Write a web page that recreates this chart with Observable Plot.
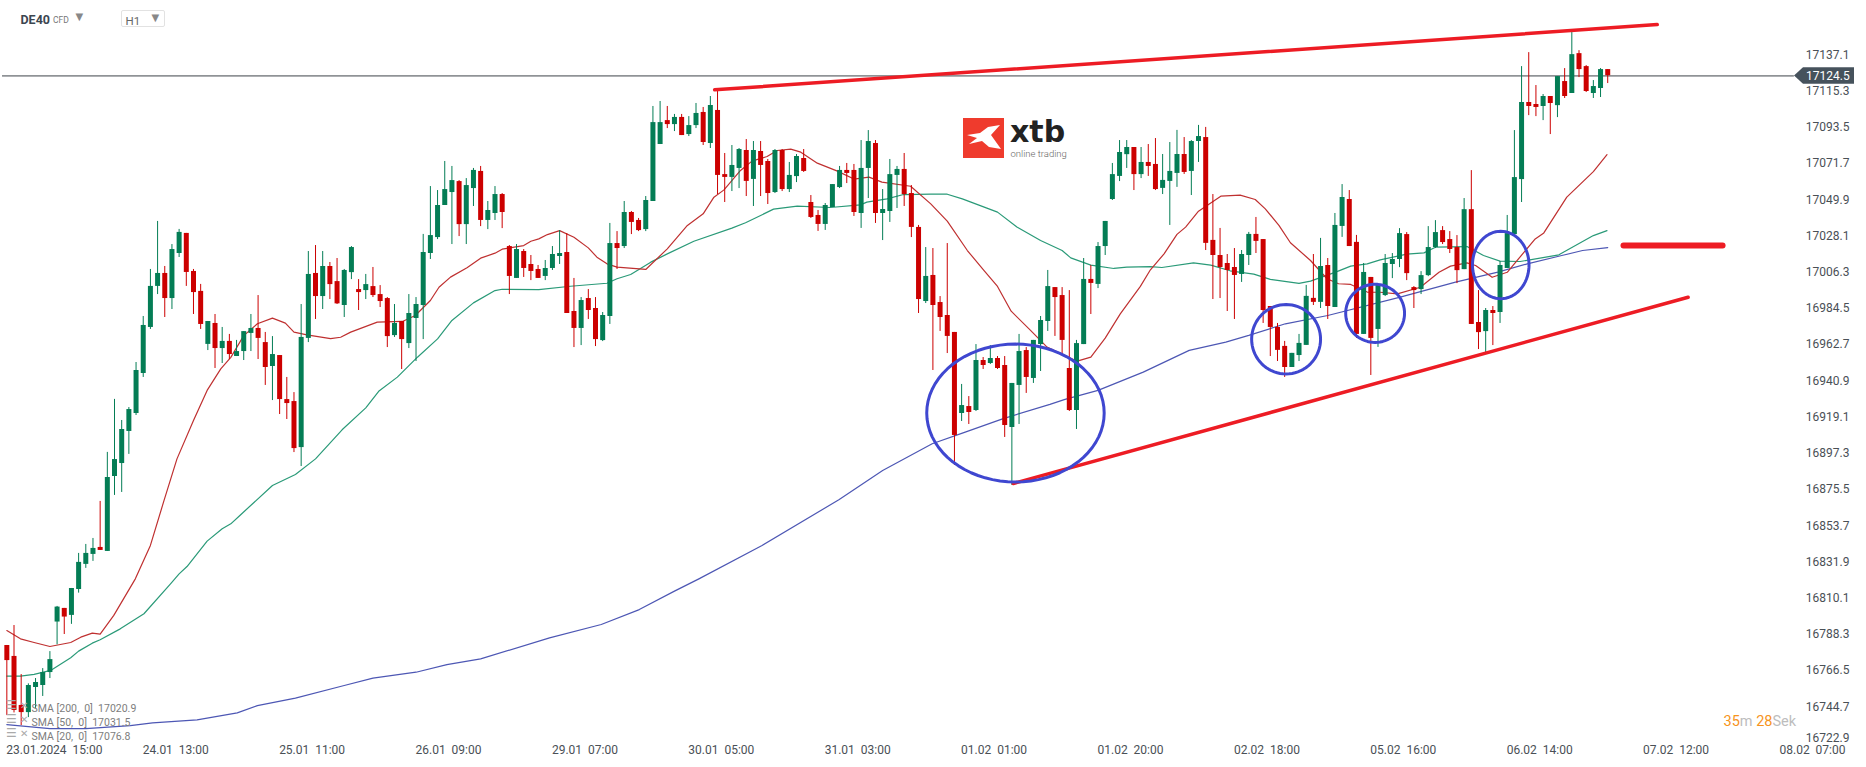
<!DOCTYPE html>
<html><head><meta charset="utf-8">
<script src="https://cdn.jsdelivr.net/npm/d3@7"></script>
<script src="https://cdn.jsdelivr.net/npm/@observablehq/plot@0.6"></script>
<style>
html,body{margin:0;padding:0;background:#fff;overflow:hidden}
#wrap{position:relative;width:1866px;height:767px;font-family:Roboto,sans-serif}
#wrap svg{display:block}
.ov{position:absolute;white-space:pre}
</style></head><body><div id="wrap"></div>
<script>
const openP=[16781.6,16775,16745.5,16741.2,16756.3,16757.5,16765.3,16795.7,16803.9,16799.7,16815.3,16830.4,16836.4,16840.6,16838.2,16883.3,
16891.1,16910.4,16921.2,16945.3,16973,16997.7,17005.5,16990.4,17017.5,17029.6,17006.7,16994.7,16962.8,16975.4,16960.3,16964.6,
16955.5,16958.5,16969.4,16972.4,16963.9,16949.5,16956.1,16929.6,16928.4,16900.7,16966.4,17005.5,16991.6,17009.7,17000.6,16986.2,
17006,16995.8,16995.2,16997.6,16992.8,16990.4,16968.1,16976.6,16963.3,16978.4,16986.2,17017.5,17027.1,17046.4,17054.2,17060.8,
17034.9,17056.6,17066.9,17037.4,17041.6,17053,17021.7,17002.5,17018.7,17010.9,17007.9,17003.7,17008.5,17015.7,17018.1,16982.6,
16972.4,16990.4,16984.4,16965.1,16979.6,17023.5,17021.7,17042.2,17037.4,17031.9,17048.8,17083.1,17097.5,17095.1,17099.4,17089.1,
17094.5,17102.4,17083.7,17103.6,17065,17063.3,17068.7,17079.5,17062.1,17078.9,17072.9,17054.2,17079.5,17056,17063.8,17074.7,
17048.2,17040.4,17035,17045.2,17057.2,17067.5,17067.5,17041.6,17068.7,17083.7,17041.6,17042.8,17064.5,17068.1,17053.6,17033.2,
16988.6,17004.3,16988,16980.2,16970,16921.2,16925.4,16923,16953.1,16951.3,16954.3,16950.1,16912.8,16938.1,16959.1,16942.3,
16962.7,16976.6,16997,16992.2,16948.3,16923,16962.7,17001.9,16998.9,17021.7,17050,17063.9,17077,17081.3,17065,17072.3,
17071.1,17056.7,17060.9,17065.7,17077.1,17066.9,17084.9,17087.3,17025.4,17016.3,17011.5,17009.1,17004.9,17016.3,17029,17025.9,
16985.6,16973,16961.6,16948.9,16956.1,16962.2,16990.5,16988.1,17010.3,16985,17033.8,17050,17024.2,16968.8,17003.1,16971.8,
16992.2,17010.9,17013.9,17028.9,16997,16995.8,17004.2,17021.1,17031.3,17025.9,17021.1,17007.8,17043.9,16976,16970.5,16983.2,
16982,17008.5,17028.9,17062,17108.4,17107.2,17106,17112,17106.5,17121,17113.8,17137.8,17130,17113.8,17116.8,17128.2];
const closeP=[16772.5,16742.5,16741.2,16757.5,16759.3,16765.3,16773.1,16804.7,16798.7,16815.9,16831.6,16837,16840,16838.8,16882.7,16893.5,
16911.6,16923.6,16947.1,16974.2,16997.7,17005.5,16990.4,17019.9,17030.2,17006.1,16994,16974.8,16976.6,16960.3,16964.6,16956.7,
16958.5,16970.5,16972.4,16966.4,16948.9,16956.7,16929.6,16927.2,16900.1,16967,17004.9,16991.6,17009.7,16998.8,16987.2,17007.3,
17021.1,16994,16998.8,16992.2,16988.6,16967.5,16975.4,16965.7,16981.4,16986.8,17018.1,17028.3,17046.4,17056,17061.4,17034.9,
17058.4,17067.5,17037.4,17043.4,17053,17042.2,17003.7,17019.9,17008.5,17006.7,17002.5,17008.5,17016.9,17017.5,16981.4,16972.4,
16989.2,16983.2,16965.7,16980.2,17023.5,17020.5,17042.2,17036.2,17031.3,17049.4,17096.3,17096.3,17095.1,17099.4,17088.5,17094.5,
17101.8,17084.3,17106.6,17064.5,17063.3,17070.5,17080.1,17060.9,17079.5,17070.5,17053.6,17079.5,17056,17064.5,17075.9,17066.9,
17039.2,17035,17046.4,17059,17067.5,17065.7,17042.2,17068.7,17084.9,17041.6,17044,17065,17068.1,17053,17033.2,16989.8,
17003.7,16986.2,16979,16967.6,16908,16926,16921.8,16953.1,16950.1,16954.3,16948.3,16914,16939.3,16958.5,16942.9,16965.2,
16977.2,16997.6,16991,16965.2,16923,16963.3,17001.9,16999.5,17021.7,17036.8,17065,17078.3,17081.3,17065,17072.3,17069.9,
17056,17061.5,17066.9,17077.1,17066.3,17084.9,17087.9,17023.6,17016.3,17009.1,17007.3,17004.3,17016.9,17029,17024.8,16983.2,
16973,16959.2,16948.9,16957.4,16963.4,16991.7,16988.1,17009.7,16985.6,17034.4,17051.2,17021.7,16968.8,17006.1,16966.4,16998.3,
17011.5,17013.9,17029.5,17005.4,16995.2,17004.2,17021.1,17030.1,17024.1,17019.9,17007.2,17043.9,16974.8,16969.9,16983.2,16981.4,
17010.3,17029.5,17063.2,17108.4,17106,17105.4,17112,17107.8,17124,17112,17137.2,17128.2,17115,17118,17128.2,17124.5];
const highP=[16781.6,16793.6,16764.1,16758.5,16761.7,16767.7,16777.9,16805.1,16803.9,16815.9,16837,16842.4,16846,16868.3,16897.8,16929.7,
16917,16924.8,16951.9,16979.6,17007.9,17036.8,17009.7,17022.9,17032,17029.6,17007.9,16998.9,16976.6,16980.8,16973,16968.8,
16965.2,16970.5,16980.8,16992.2,16970,16967.5,16956.1,16942.9,16933.8,16986.8,17018.7,17022.3,17018.7,17012.1,17014.5,17007.9,
17021.7,17001.8,17004.9,17009.1,16998.2,16991,16986.8,16976.6,16992.8,16991,17029,17057.8,17055.4,17072.9,17069.9,17061.4,
17062.6,17068.7,17069.9,17048.8,17057.8,17053.6,17022.3,17022.9,17019.9,17016.3,17010.3,17013.3,17021.7,17031.3,17029.5,17002.5,
16991,16995.8,16991,16982,17035.6,17030.7,17048.8,17042.8,17038.6,17051.8,17106,17109,17106,17101.2,17101.2,17099.9,
17107.8,17105.4,17112,17115.6,17077.7,17082.5,17080.7,17086.1,17084.9,17084.9,17074.1,17080.1,17080.1,17072.3,17077.1,17080.1,
17052.4,17043.4,17047.6,17059,17069.9,17071.7,17071.1,17085.5,17091.5,17085.5,17056,17074.1,17069.9,17077.7,17058.4,17034.4,
17021.1,17020.5,16991.6,17023.5,16970,16938.7,16931.4,16962.7,16954.9,16962.1,16955.5,16955.5,16939.3,16968.8,16960.9,16965.2,
16979.6,17007.3,16997,16997,16995.2,16965.2,17014.5,17010.3,17024.1,17036.8,17071.7,17085.5,17085.5,17081.3,17081.3,17083.1,
17086.7,17077.1,17084.3,17091.6,17087.3,17085.5,17094.6,17093.4,17053,17032.6,17016.9,17020.5,17019.3,17030.2,17039.2,17025.9,
16985.6,16975.4,16964.6,16957.4,16968.8,16998.3,17016.9,17026.6,17014.5,17041.6,17059,17055.4,17028.4,17011.5,17003.1,16999.3,
17016.9,17017.5,17032.5,17030.1,16997.6,17006.6,17033.7,17037.3,17033.7,17030.7,17028.3,17050.6,17067.4,16995.2,16984.4,16985.6,
17012.7,17040.4,17091.5,17130,17138.4,17118.6,17113.2,17112,17124,17128.8,17150.5,17139.6,17130.6,17121.6,17128.8,17128.2];
const lowP=[16739.4,16741,16733.4,16738.2,16743.7,16750.9,16761.7,16782,16788.2,16794.3,16813.1,16828,16832.2,16838.8,16838.2,16871.9,
16873.7,16896.6,16920,16942.9,16971.8,16992.8,16979,16983.8,17015.1,16997.7,16980.8,16971.8,16959.1,16948.3,16951.3,16953.7,
16955.5,16953.1,16958.5,16953.7,16938.1,16929,16920.6,16917.6,16897.7,16889.3,16963.9,16977.8,16983.8,16989.8,16986.8,16979,
17001.8,16983.2,16989.8,16991,16985,16960.9,16967,16947.7,16960.3,16952.5,16965.7,17013.9,17025.9,17046.4,17022.9,17027.7,
17022.9,17045.8,17033.7,17031.9,17037.4,17032.5,16992.8,17002.5,17003.1,17001.2,17002.5,17001.2,17007.3,17010.9,16981.4,16960.9,
16962.1,16977.8,16961.5,16964.5,16974.8,17007.9,17020.5,17028.9,17030.7,17030.7,17048.8,17083.1,17092.7,17090.9,17088.5,17087.9,
17092.7,17082.5,17080.7,17053,17048.2,17054.8,17056.6,17051.8,17045.8,17051.8,17047,17053.6,17054.8,17054.2,17060.2,17066.3,
17038.6,17030.8,17031.4,17045.2,17056.6,17059.6,17039.8,17032.6,17050.6,17035.6,17025.3,17036.2,17044.6,17045.8,17027.1,16981.4,
16987.4,16947.1,16970.6,16957.3,16889.9,16916.4,16914.6,16922.4,16947.7,16950.7,16947.7,16906.8,16877.9,16914.6,16933.3,16939.3,
16946.5,16970.6,16967.6,16956.1,16922.4,16911.6,16962.7,16980.8,16996.4,17016.3,17049.4,17060.8,17068.7,17055.4,17062.6,17063.9,
17055.4,17053,17034.4,17057.3,17065.1,17052.4,17072.3,17019.3,16989.8,16990.4,16982.6,16977.8,17000.1,17010.3,17017.5,16975.4,
16955.5,16952.5,16942.9,16948.9,16952.5,16962.2,16986.2,16984.4,16977.8,16985,17027.2,17021.7,16966.4,16968.8,16944.1,16961,
16991.6,17002.4,17009,17001.2,16984.4,16992.8,17003.6,17020.5,17022.9,17017.5,16999.4,17007.8,16974.8,16959.7,16957.9,16962.1,
16975.4,17008.5,17028.9,17048.2,17100.5,17099.9,17097.5,17089.1,17099.3,17110.8,17113.8,17123.4,17114.4,17110.8,17111.4,17119.8];

const sma20Idx=[0,1.9,3.8,6,8.9,10.3,11.9,13,14.9,17.9,20,21.9,23.7,26,27.9,29.8,31.2,33,34.9,37,38.8,40,41.8,45.1,46.5,47.9,51.6,55.1,56.9,59,60.2,61.8,64.1,66,68,69,72,73,74.1,75.3,77,79,81,82.2,83.6,85,89,92,94.8,97,98.5,99.9,102.2,103.8,105.9,107.3,109.2,110.6,112.9,115.7,118,120.1,121.9,125.9,128.7,131,133.8,136.1,138,139.9,142.6,144.9,149.1,151,153,155.1,157.9,159.3,161.2,163,164.2,166,169.1,171.8,173.9,175.3,177.2,178.8,181.6,183.9,185.5,187.2,189.5,191.3,193.7,196.9,199.5,201.1,203.4,204.6,206.9,209,212.9,214.1,217.3,221,222.9];
const sma20Val=[16790.6,16785.6,16783.4,16781,16783.4,16786.6,16789,16788.4,16799.7,16821.7,16841.8,16868.9,16893.9,16917,16935.1,16948.1,16955,16968.1,16975.2,16978.6,16975.6,16970.2,16968.5,16966.3,16967.1,16970.2,16976.2,16976.6,16980.2,16989.2,16997.2,17003.3,17008.9,17014.7,17017.7,17020.1,17022.3,17024.9,17026.3,17028.9,17031.3,17027.3,17020.9,17015.3,17011.3,17009.3,17007.9,17020.3,17034.4,17041.4,17051.4,17055.8,17067.5,17073.1,17075.9,17079.5,17080.3,17078.5,17071.9,17067.1,17062.3,17063.5,17060.5,17058,17047.4,17037,17019.3,17007.3,16997.7,16982.8,16971.2,16961.2,16952.7,16955.1,16966.6,16981.2,16997.7,17007.7,17017.3,17029,17033.4,17043,17052,17052.6,17050,17044.4,17034.4,17024,17013.3,17002.3,16999.3,16998.9,16994.3,16994.2,16993.2,16997.2,17006.2,17009.9,17011.9,17010.3,17003.2,17006.2,17026.3,17029.9,17051.4,17066.8,17077];
const sma50Idx=[0,1.9,3.8,6.1,8.9,10,11.9,13,15.8,19.1,22.8,24,25.1,27.9,30,31.2,32.5,37,40.2,43,46.7,50,51.8,54.4,57.2,60,62,65,68,69,74.1,78.5,83.6,85,86.9,89.7,92,95.7,101,102.9,106.8,110.1,114.7,118.9,119.8,122.6,124.9,128.7,131,133.1,138,140.7,144,147,148.2,151,154.2,156,159.3,160.9,165.3,167.7,170.4,173.7,176,180,181.6,185.1,187.2,189.5,191.3,195,197.4,199,203.4,205.7,208,210.8,216.2,221,222.9];
const sma50Val=[16763.2,16763.2,16764.2,16766.6,16774.2,16778.2,16783,16785,16791.6,16800.7,16818.7,16824.7,16829.1,16844.4,16851.8,16854.8,16860,16877.9,16884.5,16893.9,16911.4,16924.6,16934.6,16943.1,16955.1,16966.1,16977.2,16987.8,16995.2,16996,16995.8,16997.8,16999.6,17002.3,17004.9,17012.3,17017.3,17024.9,17032.8,17036,17044.2,17046,17045.2,17046.8,17048.4,17050.4,17053,17053.2,17053.2,17050.4,17042.4,17033.4,17025.3,17019.3,17014.9,17010.5,17008.5,17009.3,17009.6,17009.1,17011.9,17010.5,17007.1,17005.1,17001.9,16999.5,17000.9,17006.3,17009.9,17011.3,17013.7,17017.1,17017.9,17021.3,17021.7,17016.3,17012.9,17012.7,17016.7,17028.3,17031.3];
const sma200Idx=[0,6,11,17.2,20.3,26.5,32.1,34.9,40.2,47,51,57,61.3,66,75.6,82.8,88.1,93,96.4,105.2,115.9,122,128.9,133.5,138.7,145.3,147.4,152,158.3,164.7,169.8,173,178.1,184,194.1,201.8,207.7,211.8,216.6,219.5,223];
const sma200Val=[16734,16731.6,16731.6,16733.4,16735,16736.8,16741,16745.4,16749.9,16757.5,16761.9,16765.5,16770.1,16773.5,16786.2,16794.2,16803.2,16814.3,16821.7,16841.8,16869.3,16886.9,16903,16910,16918,16926.7,16929.7,16935.1,16946.1,16959.2,16964.2,16968.2,16975.2,16980.2,16991.3,17000.3,17006.3,17011.3,17016.3,17019.3,17021.1];

const yTicks=[17137.1,17115.3,17093.5,17071.7,17049.9,17028.1,17006.3,16984.5,16962.7,16940.9,16919.1,16897.3,16875.5,16853.7,16831.9,16810.1,16788.3,16766.5,16744.7];
const yBottomTick=16722.9;
const dateLabels=["23.01.2024","24.01","25.01","26.01","29.01","30.01","31.01","01.02","01.02","02.02","05.02","06.02","07.02","08.02"];
const hourLabels=["15:00","13:00","11:00","09:00","07:00","05:00","03:00","01:00","20:00","18:00","16:00","14:00","12:00","07:00"];
const currentPrice=17124.5;
const upperLineIdx=[98.6,229.9], upperLineVal=[17116,17155.3];
const lowerLineIdx=[140.2,234.2], lowerLineVal=[16879.1,16991.2];
const levelIdx=[225.2,239], levelVal=[17022.3,17022.3];
const circleIdx=[140.5,178.2,190.6,208.1], circleVal=[16921.5,16965.9,16981.5,17010.6];
const circleRx=[12.36,4.8,4.1,3.94], circleRy=[41.5,20.9,17.5,20.3];
const legendLabels=["SMA [200,  0]  17020.9","SMA [50,  0]  17031.5","SMA [20,  0]  17076.8"];

const bars=openP.map((o,i)=>({i,o,c:closeP[i],h:highP[i],l:lowP[i]}));
const up=bars.filter(d=>d.c>=d.o), down=bars.filter(d=>d.c<d.o);
const GREEN="#047d55", RED="#cc0000";
const pts=(X,Y)=>X.map((x,k)=>({x,y:Y[k]}));
const ellipses=circleIdx.flatMap((cx,k)=>d3.range(0,73).map(a=>({k,x:cx+circleRx[k]*Math.cos(a*Math.PI/36),y:circleVal[k]+circleRy[k]*Math.sin(a*Math.PI/36)})));
const lab=(s,dx,dy,o={})=>Plot.text([s],{text:d=>d,frameAnchor:"top-left",dx,dy,textAnchor:"start",lineAnchor:"middle",...o});

const chart=Plot.plot({
  width:1866,height:767,marginTop:0,marginLeft:0,marginRight:17,marginBottom:24.5,
  style:{fontFamily:"Roboto, sans-serif",fontSize:"12px",background:"#fff",color:"#4a5056"},
  x:{type:"linear",domain:[-0.8817,256.68],range:[0,1849],axis:null},
  y:{type:"linear",domain:[16722.9,17137.1],range:[742.5,54.3],axis:null},
  marks:[
    Plot.axisY({anchor:"right",ticks:yTicks,tickSize:0,tickPadding:0,textAnchor:"end",tickFormat:d=>d.toFixed(1),label:null}),
    Plot.axisY({anchor:"right",ticks:[yBottomTick],tickSize:0,tickPadding:0,dy:-5,textAnchor:"end",tickFormat:d=>d.toFixed(1),label:null}),
    Plot.axisX({anchor:"bottom",ticks:dateLabels.map((_,k)=>k*19),tickSize:0,tickPadding:2,textAnchor:"start",dx:-0.5,label:null,
      tickFormat:d=>dateLabels[d/19]+"\u00a0\u00a0"+hourLabels[d/19]}),
    Plot.ruleY([currentPrice],{x1:-0.6,x2:249,stroke:"#3e444a",strokeWidth:1,dy:0.2}),
    Plot.line(pts(sma200Idx,sma200Val),{x:"x",y:"y",stroke:"#4d57b4",strokeWidth:1.2}),
    Plot.line(pts(sma50Idx,sma50Val),{x:"x",y:"y",stroke:"#2a9a78",strokeWidth:1.2}),
    Plot.line(pts(sma20Idx,sma20Val),{x:"x",y:"y",stroke:"#bf3030",strokeWidth:1.2}),
    Plot.ruleX(up,{x:"i",y1:"l",y2:"h",stroke:GREEN,strokeWidth:1}),
    Plot.ruleX(down,{x:"i",y1:"l",y2:"h",stroke:RED,strokeWidth:1}),
    Plot.ruleX(up,{x:"i",y1:"o",y2:"c",stroke:GREEN,strokeWidth:5}),
    Plot.ruleX(down,{x:"i",y1:"o",y2:"c",stroke:RED,strokeWidth:5}),
    Plot.line(pts(upperLineIdx,upperLineVal),{x:"x",y:"y",stroke:"#ed1c24",strokeWidth:3.5}),
    Plot.line(pts(lowerLineIdx,lowerLineVal),{x:"x",y:"y",stroke:"#ed1c24",strokeWidth:3.5}),
    Plot.line(pts(levelIdx,levelVal),{x:"x",y:"y",stroke:"#ed1c24",strokeWidth:6,strokeLinecap:"round"}),
    Plot.line(ellipses,{x:"x",y:"y",z:"k",stroke:"#3f47d0",strokeWidth:3}),
    lab("DE40",20,19,{fontSize:12.5,fontWeight:700,fill:"#3c4650"}),
    lab("CFD",52.5,19.5,{fontSize:8.5,fill:"#777"}),
    lab("\u25BC",75,16.5,{fontSize:10,fill:"#888",fontFamily:"DejaVu Sans"}),
    lab("H1",125,20.5,{fontSize:11.5,fill:"#666"}),
    lab("\u25BC",151,17.5,{fontSize:10,fill:"#888",fontFamily:"DejaVu Sans"}),
    ...legendLabels.flatMap((s,k)=>[
      lab("\u2630",5.5,705+14*k,{fontSize:12,fill:"#aaa",fontFamily:"DejaVu Sans"}),
      lab("\u2715",19.5,705+14*k,{fontSize:10,fill:"#aaa",fontFamily:"DejaVu Sans"}),
      lab(s,31,708+14*k,{fontSize:10.5,fill:"#7d7d7d"})
    ])
  ]
});
const wrap=document.getElementById("wrap");
wrap.appendChild(chart);
const py=chart.scale("y").apply(currentPrice);
const tag=document.createElement("div");
tag.className="ov";
tag.style.cssText=`left:1794px;top:${py-8}px;width:60px;height:16.5px;background:#46525c;clip-path:polygon(0 50%,9px 0,100% 0,100% 100%,9px 100%);`;
wrap.appendChild(tag);
const tagT=document.createElement("div");
tagT.className="ov";
tagT.textContent="17124.5";
tagT.style.cssText=`left:1806px;top:${py-7}px;width:43px;text-align:right;color:#fff;font-size:12px;line-height:16px;`;
wrap.appendChild(tagT);
const h1=document.createElement("div");
h1.className="ov";
h1.style.cssText="left:120.5px;top:10px;width:42px;height:15px;border:1px solid #e2e2e2;border-radius:2px;";
wrap.appendChild(h1);
const t=document.createElement("div");
t.className="ov";
t.style.cssText="left:1723.5px;top:713px;font-size:14.5px;line-height:18px;color:#f7941d;";
t.innerHTML='35<span style="color:#bdbdbd">m</span> 28<span style="color:#bdbdbd">Sek</span>';
wrap.appendChild(t);
const logo=document.createElement("div");
logo.className="ov";
logo.style.cssText="left:963px;top:118px;width:41px;height:40px;background:#ef3b2d;";
logo.innerHTML='<svg width="41" height="40"><path d="M4 17L17 15L25 9L37 7L28 17L38 31L26 29L19 23L6 26L14 20Z" fill="#fff"/></svg>';
wrap.appendChild(logo);
const xtb=document.createElement("div");
xtb.className="ov";
xtb.textContent="xtb";
xtb.style.cssText="left:1010px;top:118.6px;font:700 30px/26px 'DejaVu Sans';color:#222;";
wrap.appendChild(xtb);
const ot=document.createElement("div");
ot.className="ov";
ot.textContent="online trading";
ot.style.cssText="left:1010.5px;top:149px;font-size:9.5px;line-height:10px;color:#666;font-weight:300;";
wrap.appendChild(ot);
</script></body></html>
